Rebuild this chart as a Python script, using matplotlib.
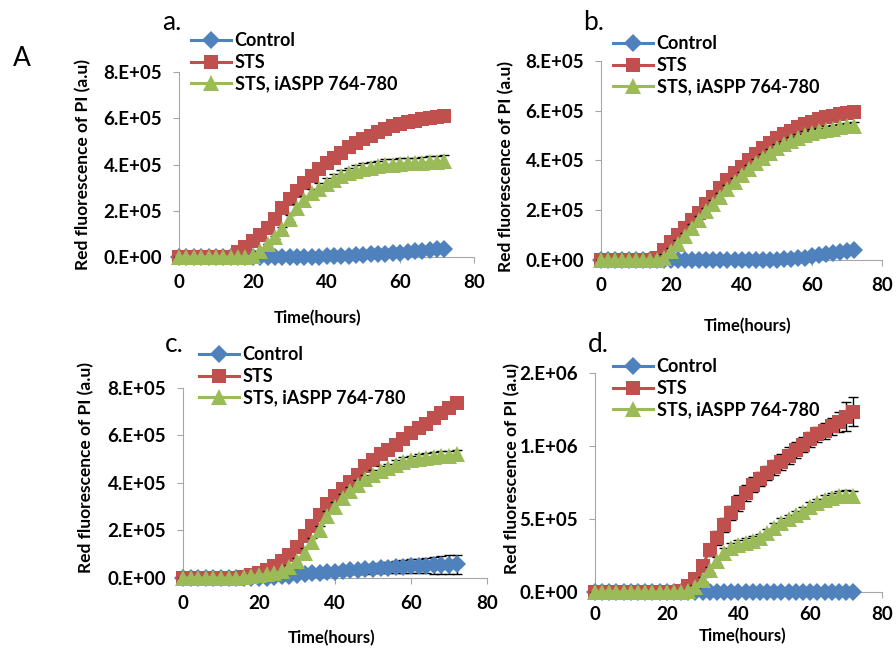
import matplotlib
matplotlib.use("Agg")
import matplotlib.pyplot as plt
from matplotlib.ticker import FuncFormatter

plt.rcParams['font.family'] = ['Lato', 'DejaVu Sans']

# time points (hours)
t = [0, 2, 4, 6, 8, 10, 12, 14, 16, 18, 20, 22, 24, 26, 28, 30, 32, 34, 36,
     38, 40, 42, 44, 46, 48, 50, 52, 54, 56, 58, 60, 62, 64, 66, 68, 70, 72]

labels = ['Control', 'STS', 'STS, iASPP 764-780']

# panel a (x1e5)
ctrl_a = [0.0]*16 + [0.005, 0.01, 0.015, 0.02, 0.03, 0.04, 0.05, 0.06, 0.08, 0.09, 0.11,
                     0.13, 0.15, 0.17, 0.19, 0.21, 0.24, 0.27, 0.30, 0.33, 0.36]
sts_a = [0.0]*8 + [0.2, 0.45, 0.7, 0.95, 1.25, 1.65, 2.1, 2.5, 2.85, 3.2, 3.5, 3.8, 4.05, 4.3,
                   4.5, 4.75, 4.95, 5.1, 5.25, 5.4, 5.55, 5.65, 5.75, 5.82, 5.9, 5.95, 6.0, 6.05, 6.1]
pep_a = [0.0]*10 + [0.05, 0.25, 0.55, 0.85, 1.2, 1.65, 2.1, 2.45, 2.75, 2.95, 3.15, 3.35, 3.5,
                    3.62, 3.72, 3.8, 3.85, 3.92, 3.97, 4.0, 4.03, 4.05, 4.05, 4.07, 4.1, 4.12, 4.15]
ctrl_a_err = [0.0]*16 + [0.03, 0.03, 0.03, 0.03, 0.03, 0.03, 0.04, 0.04, 0.04, 0.04, 0.04,
                         0.04, 0.05, 0.05, 0.05, 0.05, 0.05, 0.06, 0.06, 0.06, 0.06]
sts_a_err = [0.0]*8 + [0.1]*29
pep_a_err = [0.0]*13 + [0.05, 0.1, 0.15, 0.2, 0.2, 0.2, 0.25, 0.25, 0.25, 0.25, 0.25, 0.25,
                        0.25, 0.25, 0.25, 0.25, 0.25, 0.25, 0.25, 0.25, 0.25, 0.25, 0.25, 0.25]

# panel b (x1e5)
ctrl_b = [0.0]*25 + [0.01, 0.02, 0.03, 0.06, 0.1, 0.15, 0.2, 0.24, 0.28, 0.32, 0.37, 0.42]
sts_b = [0.0]*8 + [0.1, 0.4, 0.72, 1.0, 1.3, 1.6, 1.9, 2.25, 2.55, 2.9, 3.2, 3.5, 3.75, 4.0,
                   4.25, 4.5, 4.7, 4.9, 5.05, 5.2, 5.33, 5.45, 5.55, 5.65, 5.73, 5.8, 5.87, 5.92, 5.95]
pep_b = [0.0]*9 + [0.1, 0.35, 0.65, 0.95, 1.3, 1.6, 1.95, 2.25, 2.55, 2.85, 3.15, 3.4, 3.65,
                   3.9, 4.12, 4.32, 4.5, 4.65, 4.8, 4.92, 5.02, 5.1, 5.17, 5.23, 5.28, 5.33, 5.37, 5.4]
ctrl_b_err = [0.0]*25 + [0.03]*12
sts_b_err = [0.0]*8 + [0.1]*29
pep_b_err = [0.0]*9 + [0.15]*28

# panel c (x1e5)
ctrl_c = [0.0]*11 + [0.02, 0.04, 0.07, 0.1, 0.13, 0.16, 0.19, 0.21, 0.24, 0.27, 0.29, 0.32, 0.34,
                     0.37, 0.39, 0.41, 0.43, 0.45, 0.47, 0.49, 0.5, 0.52, 0.53, 0.55, 0.56, 0.57]
sts_c = [0.0]*8 + [0.05, 0.12, 0.22, 0.35, 0.5, 0.7, 0.95, 1.3, 1.75, 2.2, 2.65, 3.1, 3.45, 3.75,
                   4.05, 4.35, 4.7, 4.95, 5.2, 5.4, 5.6, 5.85, 6.1, 6.3, 6.5, 6.72, 6.95, 7.15, 7.35]
pep_c = [0.0]*8 + [0.03, 0.08, 0.12, 0.16, 0.2, 0.28, 0.45, 0.7, 1.05, 1.5, 2.0, 2.6, 3.0, 3.35,
                   3.65, 3.92, 4.15, 4.35, 4.5, 4.62, 4.75, 4.88, 4.95, 5.0, 5.05, 5.1, 5.13, 5.15, 5.2]
ctrl_c_err = [0.0]*11 + [0.03, 0.05, 0.07, 0.08, 0.1, 0.11, 0.12, 0.13, 0.14, 0.15, 0.16, 0.17,
                         0.18, 0.19, 0.2, 0.21, 0.23, 0.25, 0.27, 0.29, 0.31, 0.33, 0.35, 0.37,
                         0.39, 0.4]
sts_c_err = [0.0]*8 + [0.1]*29
pep_c_err = [0.0]*14 + [0.1, 0.15, 0.2, 0.2, 0.2, 0.2, 0.2, 0.2, 0.2, 0.2, 0.2, 0.2, 0.2, 0.2,
                        0.2, 0.2, 0.2, 0.2, 0.2, 0.2, 0.2, 0.2, 0.2]

# panel d (x1e5)
ctrl_d = [0.0]*37
sts_d = [0.0]*12 + [0.1, 0.4, 0.9, 1.8, 2.9, 3.7, 4.6, 5.4, 6.1, 6.8, 7.35, 7.75, 8.15, 8.55,
                    8.9, 9.35, 9.7, 10.1, 10.45, 10.8, 11.05, 11.35, 11.65, 12.0, 12.35]
pep_d = [0.0]*13 + [0.1, 0.35, 0.85, 1.5, 2.1, 2.65, 3.0, 3.2, 3.35, 3.5, 3.7, 4.05, 4.4, 4.75,
                    5.0, 5.25, 5.5, 5.85, 6.1, 6.3, 6.45, 6.55, 6.6, 6.55]
ctrl_d_err = [0.0]*37
sts_d_err = [0.0]*12 + [0.05, 0.1, 0.2, 0.3, 0.4, 0.45, 0.5, 0.5, 0.55, 0.55, 0.5, 0.5, 0.5,
                        0.5, 0.55, 0.55, 0.55, 0.5, 0.5, 0.5, 0.55, 0.6, 0.7, 1.0, 1.0]
pep_d_err = [0.0]*13 + [0.05, 0.1, 0.15, 0.2, 0.3, 0.35, 0.35, 0.35, 0.35, 0.35, 0.3, 0.3, 0.3,
                        0.3, 0.3, 0.3, 0.3, 0.3, 0.3, 0.35, 0.35, 0.35, 0.4, 0.4]

colors = ['#4F81BD', '#C0504D', '#9BBB59']
markers = ['D', 's', '^']
msizes = [9.5, 9.5, 11]

panels = [
    dict(letter='a.', rect=[0.1998, 0.604, 0.3292, 0.285],
         data=[(ctrl_a, ctrl_a_err), (sts_a, sts_a_err), (pep_a, pep_a_err)],
         ymax=8e5, ystep=2e5, ylab=(-0.325, 0.5), xlab=(0.468, -0.33), xpad=8,
         letpos=(172, 22), leg=(195, 48)),
    dict(letter='b.', rect=[0.6708, 0.5994, 0.3136, 0.3066],
         data=[(ctrl_b, ctrl_b_err), (sts_b, sts_b_err), (pep_b, pep_b_err)],
         ymax=8e5, ystep=2e5, ylab=(-0.338, 0.47), xlab=(0.52, -0.33), xpad=8,
         letpos=(594, 22), leg=(617, 51)),
    dict(letter='c.', rect=[0.2042, 0.1094, 0.3393, 0.2928],
         data=[(ctrl_c, ctrl_c_err), (sts_c, sts_c_err), (pep_c, pep_c_err)],
         ymax=8e5, ystep=2e5, ylab=(-0.319, 0.58), xlab=(0.49, -0.316), xpad=8,
         letpos=(174, 344), leg=(203, 362)),
    dict(letter='d.', rect=[0.664, 0.0878, 0.3203, 0.3374],
         data=[(ctrl_d, ctrl_d_err), (sts_d, sts_d_err), (pep_d, pep_d_err)],
         ymax=1.5e6, ystep=5e5, ylab=(-0.289, 0.566), xlab=(0.516, -0.2), xpad=6,
         letpos=(598, 345), leg=(617, 374)),
]

W, H = 896, 649
fig = plt.figure(figsize=(W/100, H/100), dpi=100)

def fmt(v, pos):
    return ('%.0E' % v).replace('E', '.E')

for p in panels:
    ax = fig.add_axes(p['rect'])
    handles = []
    for i, (vals, errs) in enumerate(p['data']):
        y = [v*1e5 for v in vals]
        e = [v*1e5 for v in errs]
        ax.errorbar(t, y, yerr=e, fmt='none', ecolor='black', elinewidth=1.0,
                    capsize=3.5, capthick=1.0, zorder=3+2*i, clip_on=False)
        h, = ax.plot(t, y, color=colors[i], marker=markers[i], markersize=msizes[i],
                     linewidth=2.2, markeredgewidth=0, zorder=4+2*i, clip_on=False,
                     label=labels[i])
        handles.append(h)
    ax.set_xlim(0, 80)
    ax.set_ylim(0, p['ymax'])
    ax.set_xticks([0, 20, 40, 60, 80])
    yt = []
    v = 0.0
    while v <= p['ymax'] + 1:
        yt.append(v)
        v += p['ystep']
    ax.set_yticks(yt)
    ax.yaxis.set_major_formatter(FuncFormatter(fmt))
    for s in ['top', 'right']:
        ax.spines[s].set_visible(False)
    for s in ['left', 'bottom']:
        ax.spines[s].set_color('#A6A6A6')
        ax.spines[s].set_linewidth(0.8)
    ax.tick_params(axis='both', direction='out', length=4, width=0.8, color='#A6A6A6',
                   labelsize=13.5, pad=8)
    ax.tick_params(axis='x', pad=p['xpad'])
    for lab in ax.get_xticklabels() + ax.get_yticklabels():
        lab.set_fontweight('bold')
    ax.set_ylabel('Red fluorescence of PI (a.u)', fontsize=12.5, fontweight='bold')
    ax.yaxis.set_label_coords(*p['ylab'])
    ax.yaxis.label.set_va('center')
    ax.set_xlabel('Time(hours)', fontsize=12, fontweight='bold')
    ax.xaxis.set_label_coords(*p['xlab'])
    ax.xaxis.label.set_va('center')
    fig.text(p['letpos'][0]/W, 1 - p['letpos'][1]/H, p['letter'], fontsize=19,
             ha='center', va='center')
    lx, ly = p['leg']
    ax.legend(handles=handles, loc='upper left', frameon=False, numpoints=1,
              bbox_to_anchor=(lx/W - 0.004, 1 - ly/H + 0.024), bbox_transform=fig.transFigure,
              prop={'size': 13, 'weight': 'bold'}, handlelength=2.2, handletextpad=0.2,
              labelspacing=0.25, borderpad=0, borderaxespad=0)

fig.text(22/W, 1 - 58/H, 'A', fontsize=19, ha='center', va='center')

fig.savefig('out.png', dpi=100)
